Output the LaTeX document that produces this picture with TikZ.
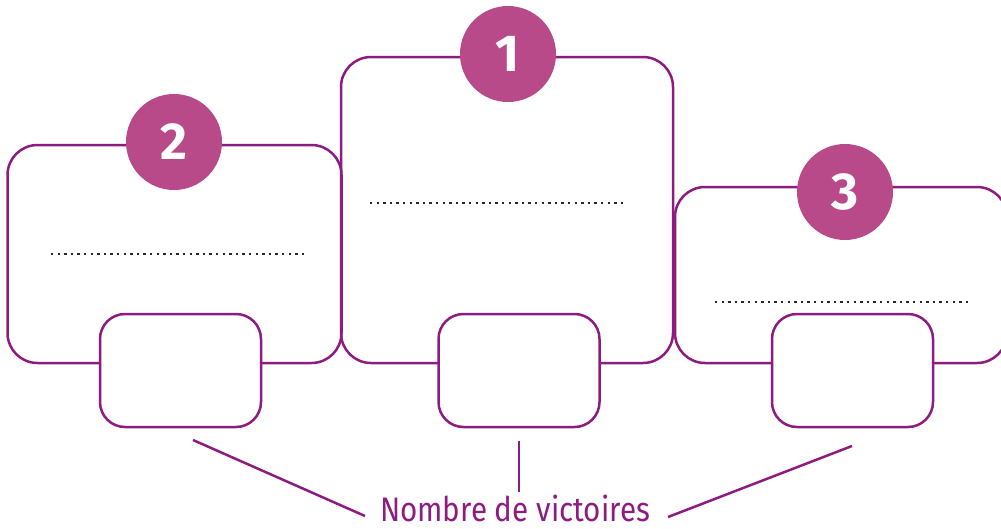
\documentclass[tikz,border=0pt]{standalone}
\usepackage{fontspec}
\setmainfont{Fira Sans}
\newfontfamily\digitfont{Fira Sans}
\definecolor{podline}{RGB}{142,27,128}
\definecolor{podfill}{RGB}{184,74,138}
\definecolor{dotcol}{RGB}{40,40,40}
\begin{document}
\begin{tikzpicture}[x=1pt,y=-1pt,
  bigbox/.style={draw=podline,line width=2.5pt,rounded corners=30pt,inner sep=0pt},
  smallbox/.style={draw=podline,fill=white,line width=2.5pt,rounded corners=25pt,inner sep=0pt,minimum width=161pt,minimum height=113pt},
  rank/.style={circle,fill=podfill,inner sep=0pt,minimum size=96pt,text=white,font=\digitfont\bfseries\fontsize{52}{52}\selectfont},
  dotline/.style={draw=dotcol,line width=2.4pt,dash pattern=on 2.4pt off 4.2pt},
  link/.style={draw=podline,line width=2.5pt}]
\useasboundingbox (0,0) rectangle (1001,528);
\clip (0,0) rectangle (1001,528);
% big boxes
\node[bigbox,minimum width=334pt,minimum height=218pt] (b2) at (174.5,254) {};
\node[bigbox,minimum width=332pt,minimum height=306pt] (b1) at (507,210) {};
\node[bigbox,minimum width=332pt,minimum height=176pt] (b3) at (841,275) {};
% dotted lines
\coordinate (d2a) at (51,254); \coordinate (d2b) at (304,254);
\coordinate (d1a) at (370,203); \coordinate (d1b) at (623,203);
\coordinate (d3a) at (715,302); \coordinate (d3b) at (968,302);
\draw[dotline] (d2a) -- (d2b);
\draw[dotline] (d1a) -- (d1b);
\draw[dotline] (d3a) -- (d3b);
% small boxes
\node[smallbox] (s2) at (180.5,370.5) {};
\node[smallbox] (s1) at (519,370.5) {};
\node[smallbox] (s3) at (852.5,370.5) {};
% rank circles
\node[rank] (r2) at (174,142) {2};
\node[rank] (r1) at (508,54) {1};
\node[rank] (r3) at (845,192) {3};
% label
\node[anchor=base,text=podline,inner sep=0pt,font=\fontsize{34}{34}\selectfont] (lab) at (515,521) {\scalebox{0.87}[1]{Nombre de victoires}};
\coordinate (l2) at (193,440); \coordinate (l2e) at (365,516);
\coordinate (l1) at (519,441); \coordinate (l1e) at (519,492);
\coordinate (l3) at (852,446); \coordinate (l3e) at (668,517);
\draw[link] (l2) -- (l2e);
\draw[link] (l1) -- (l1e);
\draw[link] (l3) -- (l3e);
\end{tikzpicture}
\end{document}
